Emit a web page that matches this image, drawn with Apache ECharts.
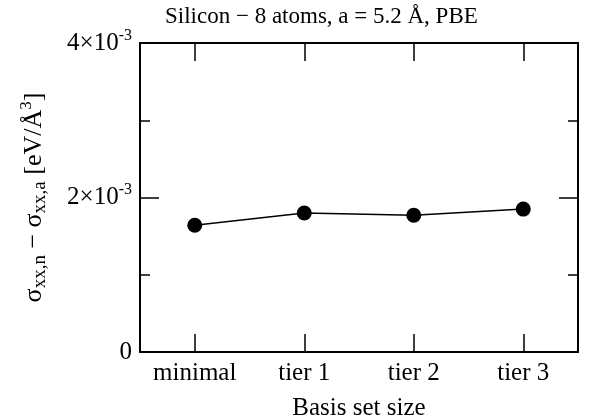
<!DOCTYPE html>
<html>
<head>
<meta charset="utf-8">
<script src="https://cdn.jsdelivr.net/npm/echarts@6/dist/echarts.min.js"></script>
<style>
  html, body { margin: 0; padding: 0; background: #fff; }
  #chart { width: 592px; height: 417px; }
</style>
</head>
<body>
<div id="chart"></div>
<script>
// 数据
const basisSets = ['minimal', 'tier 1', 'tier 2', 'tier 3']
const stressDiff = [0.00164, 0.00180, 0.00177, 0.00185]
const yTicks = [0, 0.002, 0.004]
const yTickLabels = ['0', '2×10{sup|-3}', '4×10{sup|-3}']

const font = 'Liberation Serif'
const black = '#000'

const chart = echarts.init(document.getElementById('chart'))

function yLabel(v) {
  const i = yTicks.findIndex(t => Math.abs(t - v) < 1e-9)
  return i >= 0 ? yTickLabels[i] : ''
}

const tickStyle = { color: black, width: 1.5 }

chart.setOption({
  animation: false,
  title: {
    text: 'Silicon − 8 atoms, a = 5.2 Å, PBE',
    left: 160,
    top: 0,
    textStyle: { fontFamily: font, fontSize: 23, fontWeight: 'normal', color: black }
  },
  grid: { left: 140, right: 14, top: 43, bottom: 65, containLabel: false, outerBoundsMode: 'none' },
  xAxis: [
    {
      type: 'category',
      data: basisSets,
      boundaryGap: true,
      name: 'Basis set size',
      nameLocation: 'middle',
      nameGap: 44,
      nameTextStyle: { fontFamily: font, fontSize: 25, color: black },
      axisLine: { onZero: false, lineStyle: { color: black, width: 2 } },
      axisTick: { show: true, inside: true, alignWithLabel: true, length: 18, lineStyle: tickStyle },
      axisLabel: { fontFamily: font, fontSize: 25, color: black, margin: 9 },
      splitLine: { show: false }
    },
    {
      type: 'category',
      data: basisSets,
      position: 'top',
      boundaryGap: true,
      axisLine: { onZero: false, lineStyle: { color: black, width: 2 } },
      axisTick: { show: true, inside: true, alignWithLabel: true, length: 18, lineStyle: tickStyle },
      axisLabel: { show: false },
      splitLine: { show: false }
    }
  ],
  yAxis: [
    {
      type: 'value',
      min: 0,
      max: 0.004,
      interval: 0.002,
      name: '{big|σ}{sub|xx,n}{big| − σ}{sub|xx,a}{big| [eV/Å}{sup|3}{big|]}',
      nameLocation: 'middle',
      nameRotate: 90,
      nameGap: 90,
      nameTextStyle: {
        rich: {
          big: { fontFamily: font, fontSize: 26, color: black },
          sub: { fontFamily: font, fontSize: 19, color: black, padding: [13, 0, 0, 0] },
          sup: { fontFamily: font, fontSize: 17, color: black, padding: [0, 0, 15, 0] }
        }
      },
      axisLine: { show: true, onZero: false, lineStyle: { color: black, width: 2 } },
      axisTick: { show: true, inside: true, length: 19, lineStyle: tickStyle },
      minorTick: { show: true, splitNumber: 2, length: 10, lineStyle: tickStyle },
      axisLabel: {
        fontFamily: font, fontSize: 25, color: black, margin: 8,
        formatter: yLabel,
        rich: {
          sup: { fontFamily: font, fontSize: 16, color: black, padding: [0, 0, 15, 0] }
        }
      },
      splitLine: { show: false }
    },
    {
      type: 'value',
      min: 0,
      max: 0.004,
      interval: 0.002,
      position: 'right',
      axisLine: { show: true, onZero: false, lineStyle: { color: black, width: 2 } },
      axisTick: { show: true, inside: true, length: 19, lineStyle: tickStyle },
      minorTick: { show: true, splitNumber: 2, length: 10, lineStyle: tickStyle },
      axisLabel: { show: false },
      splitLine: { show: false }
    }
  ],
  series: [
    {
      type: 'line',
      data: stressDiff,
      symbol: 'circle',
      symbolSize: 15,
      lineStyle: { color: black, width: 1.5 },
      itemStyle: { color: black }
    }
  ]
})
</script>
</body>
</html>
